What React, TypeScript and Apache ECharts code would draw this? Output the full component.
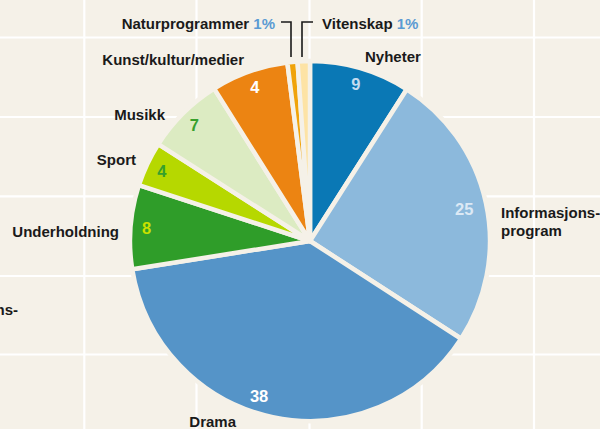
import React, { useEffect, useRef } from "react";
import * as echarts from "echarts";

// Categories (clockwise from 12 o'clock)
const categories = [
  "Nyheter",
  "Informasjons-\nprogram",
  "Drama",
  "Underholdning",
  "Sport",
  "Musikk",
  "Kunst/kultur/medier",
  "Naturprogrammer",
  "Vitenskap",
];
// Slice shares as drawn in the picture (percent)
const shares = [9, 25, 38.2, 7.5, 4, 7, 6.9, 0.9, 1.1];
// Numbers printed on / beside the slices
const printedValues = ["9", "25", "38", "8", "4", "7", "4", "1%", "1%"];

const BG = "#f5f1e8";
const TEXT = "#1a1a1a";
const FONT = "'Liberation Sans', Arial, sans-serif";
const colors = [
  "#0a78b5",
  "#8cb9dc",
  "#5594c8",
  "#2f9d29",
  "#b6d800",
  "#dcebc2",
  "#ec8412",
  "#f0a30a",
  "#fde3a5",
];
const innerLabelColors = [
  "#c3dcf0",
  "#dce9f5",
  "#ffffff",
  "#c8e000",
  "#37a02c",
  "#37a02c",
  "#ffffff",
  "#ffffff",
  "#ffffff",
];

const CX = 310;
const CY = 241;
const R = 180;

// outer label anchors (label placement, not data)
const outerLabelPos: { x: number; y: number; align: string }[] = [
  { x: 365, y: 56, align: "left" },
  { x: 501, y: 221, align: "left" },
  { x: 236, y: 421, align: "right" },
  { x: 119, y: 231, align: "right" },
  { x: 136, y: 159, align: "right" },
  { x: 165, y: 114, align: "right" },
  { x: 244, y: 59, align: "right" },
  { x: 275, y: 23, align: "right" },
  { x: 322, y: 23, align: "left" },
];
// small nudges of the inner numbers, as in the original
const innerLabelNudge: Record<number, [number, number]> = {
  1: [-6, 3],
  2: [-17, -5],
};
const leaderLines: Record<number, number[][]> = {
  7: [
    [291, 57],
    [291, 22],
    [281, 22],
  ],
  8: [
    [302, 57],
    [302, 22],
    [313, 22],
  ],
};

const gridXs = [84.3, 196.5, 309.5, 421.7, 534];
const gridYs = [37.5, 117, 196.3, 276, 354.5];

export default function App() {
  const ref = useRef<HTMLDivElement>(null);
  useEffect(() => {
    document.body.style.margin = "0";
    if (!ref.current) return;
    const chart = echarts.init(ref.current, null, { renderer: "svg" });

    const graphics: any[] = [];
    gridXs.forEach((x) =>
      graphics.push({
        type: "line",
        silent: true,
        z: -10,
        shape: { x1: x, y1: 0, x2: x, y2: 429 },
        style: { stroke: "#ffffff", lineWidth: 2.2 },
      })
    );
    gridYs.forEach((y) =>
      graphics.push({
        type: "line",
        silent: true,
        z: -10,
        shape: { x1: 0, y1: y, x2: 600, y2: y },
        style: { stroke: "#ffffff", lineWidth: 2.2 },
      })
    );
    // fragment of a neighbouring label, cut off at the left edge (as in the original)
    graphics.push({
      type: "text",
      silent: true,
      style: {
        text: "ns-",
        x: 18,
        y: 309,
        align: "right",
        verticalAlign: "middle",
        fill: TEXT,
        font: `bold 15px ${FONT}`,
      },
    });

    const mainData = categories.map((name, i) => {
      const d: any = {
        name,
        value: shares[i],
        itemStyle: { color: colors[i] },
      };
      if (leaderLines[i]) {
        d.labelLine = {
          show: true,
          lineStyle: { color: TEXT, width: 1.6 },
        };
      }
      return d;
    });

    const ringData = categories.map((name, i) => ({
      name,
      value: shares[i],
      label: {
        show: i < 7,
        color: innerLabelColors[i],
      },
    }));

    chart.setOption({
      animation: false,
      backgroundColor: BG,
      graphic: graphics,
      series: [
        {
          type: "pie",
          center: [CX, CY],
          radius: [0, R],
          startAngle: 90,
          clockwise: true,
          avoidLabelOverlap: false,
          silent: true,
          itemStyle: { borderColor: BG, borderWidth: 4.5 },
          label: {
            show: true,
            position: "outside",
            color: TEXT,
            fontFamily: FONT,
            fontWeight: "bold",
            fontSize: 15,
            lineHeight: 18,
            formatter: (p: any) => {
              const v = printedValues[p.dataIndex];
              return v.endsWith("%") ? `${p.name} {p|${v}}` : p.name;
            },
            rich: {
              p: {
                color: "#5b9bd3",
                fontWeight: "bold",
                fontSize: 15,
                fontFamily: FONT,
              },
            },
          },
          labelLine: { show: false },
          labelLayout: (params: any) => {
            const i = params.dataIndex;
            const pos = outerLabelPos[i];
            const res: any = {
              x: pos.x,
              y: pos.y,
              align: pos.align,
              verticalAlign: "middle",
            };
            if (leaderLines[i]) res.labelLinePoints = leaderLines[i];
            return res;
          },
          data: mainData,
        },
        {
          type: "pie",
          center: [CX, CY],
          radius: [142, R],
          startAngle: 90,
          clockwise: true,
          silent: true,
          itemStyle: { color: "rgba(0,0,0,0)" },
          label: {
            show: true,
            position: "inside",
            fontFamily: FONT,
            fontWeight: "bold",
            fontSize: 16.5,
            formatter: (p: any) => printedValues[p.dataIndex],
          },
          labelLine: { show: false },
          labelLayout: (params: any) => {
            const n = innerLabelNudge[params.dataIndex];
            return n ? { dx: n[0], dy: n[1] } : {};
          },
          data: ringData,
        },
      ],
    });
    return () => chart.dispose();
  }, []);
  return <div ref={ref} style={{ width: 600, height: 429 }} />;
}
